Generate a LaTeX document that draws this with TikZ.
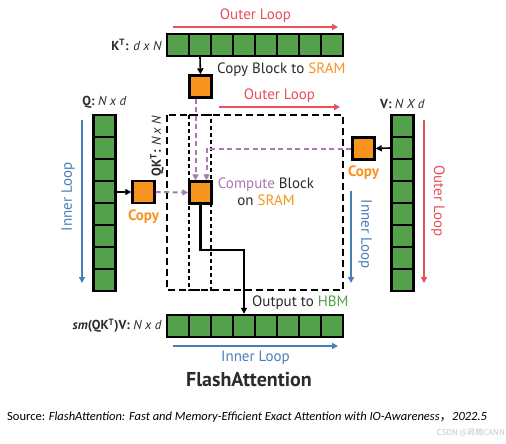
\documentclass[tikz,border=0pt]{standalone}
\usepackage{fontspec}
\setmainfont{PT Sans}
\newfontfamily\srcfont{Carlito}
\newfontfamily\cjk{Noto Sans CJK SC}
\usepackage{tikz}
\usetikzlibrary{positioning,arrows.meta}

\definecolor{cellgreen}{HTML}{55A04B}
\definecolor{sramorange}{HTML}{F7941D}
\definecolor{outerred}{HTML}{E8505B}
\definecolor{innerblue}{HTML}{4A7EBB}
\definecolor{flowpurple}{HTML}{A77BAE}
\definecolor{txtgray}{HTML}{2B2B2B}

\tikzset{
  cell/.style={draw=black, line width=2.4pt, fill=cellgreen, minimum width=22pt, minimum height=22pt, inner sep=0pt},
  block/.style={draw=black, line width=2.4pt, fill=sramorange, minimum size=22pt, inner sep=0pt},
  outerloop/.style={->, outerred, line width=1.8pt},
  innerloop/.style={->, innerblue, line width=1.8pt},
  flow/.style={->, flowpurple, line width=2pt, dash pattern=on 5pt off 3.5pt},
  feed/.style={->, black, line width=1.6pt},
  looplabel/.style={font=\fontsize{15}{17}\selectfont, inner sep=1pt},
  matlabel/.style={font=\fontsize{13}{15}\selectfont, text=txtgray, inner sep=1pt},
  textlabel/.style={font=\fontsize{15}{17}\selectfont, text=txtgray, inner sep=1pt},
  copylabel/.style={font=\fontsize{15}{17}\selectfont\bfseries, text=sramorange, inner sep=1pt}
}

\begin{document}
\begin{tikzpicture}[x=1pt, y=-1pt, >={Triangle[length=6pt,width=6pt]}]
  \useasboundingbox[fill=white] (0,0) rectangle (506,444);

  % matrices in HBM
  \foreach \i in {1,...,8} {
    \node[cell] (kt\i) at ({156+22*\i},45) {};
    \node[cell] (sm\i) at ({156+22*\i},326) {};
    \node[cell] (q\i) at (104.5,{104+22*\i}) {};
    \node[cell] (v\i) at (402.5,{104+22*\i}) {};
  }

  % QK^T region
  \draw[black, line width=1.5pt, dash pattern=on 7pt off 4pt] (167,115) rectangle (343,290);
  \draw[black, line width=1.3pt, dash pattern=on 4pt off 3pt] (189,115) rectangle (211,290);

  % blocks in SRAM
  \node[block] (kblock) at (200.5,86.5) {};
  \node[block] (qblock) at (143.5,192) {};
  \node[block] (vblock) at (363.5,148.5) {};
  \node[block] (cblock) at (200.5,192.5) {};

  % labels
  \node[matlabel, anchor=east] (ktlabel) at (163,45) {\textbf{K\textsuperscript{T}:} \textit{d x N}};
  \node[matlabel, above=4pt of q1] (qlabel) {\textbf{Q:} \textit{N x d}};
  \node[matlabel, above=4pt of v1] (vlabel) {\textbf{V:} \textit{N X d}};
  \node[matlabel, anchor=east] (smlabel) at (163,326) {\textbf{\textit{sm}(QK\textsuperscript{T})V:} \textit{N x d}};
  \node[matlabel, rotate=90] (qktlabel) at (157,146) {\textbf{QK\textsuperscript{T}:} \textit{N x N}};
  \node[textlabel, anchor=west] (copyk) at (216,70) {Copy Block to \textcolor{sramorange}{SRAM}};
  \node[copylabel, below=4pt of qblock] (copyq) {Copy};
  \node[copylabel, below=4pt of vblock] (copyv) {Copy};
  \node[textlabel, align=center] (compute) at (266,192) {\textcolor{flowpurple}{Compute} Block\\on \textcolor{sramorange}{SRAM}};
  \node[textlabel, anchor=west] (output) at (251,303) {Output to \textcolor{cellgreen}{HBM}};

  % loops
  \coordinate (o1s) at (173,27);  \coordinate (o1e) at (338,27);
  \coordinate (o2s) at (219,107); \coordinate (o2e) at (340,107);
  \coordinate (o3s) at (424,120); \coordinate (o3e) at (424,283);
  \coordinate (i1s) at (82,120);  \coordinate (i1e) at (82,283);
  \coordinate (i2s) at (351,191); \coordinate (i2e) at (351,283);
  \coordinate (i3s) at (173,346); \coordinate (i3e) at (338,346);
  \draw[outerloop] (o1s) -- node[looplabel, above=3pt, text=outerred] {Outer Loop} (o1e);
  \draw[outerloop] (o2s) -- node[looplabel, above=3pt, text=outerred] {Outer Loop} (o2e);
  \draw[outerloop] (o3s) -- (o3e);
  \draw[innerloop] (i1s) -- (i1e);
  \draw[innerloop] (i2s) -- (i2e);
  \draw[innerloop] (i3s) -- node[looplabel, below=3pt, text=innerblue] {Inner Loop} (i3e);
  \node[looplabel, text=outerred, rotate=-90] (outerv) at (438,201) {Outer Loop};
  \node[looplabel, text=innerblue, rotate=90] (innerq) at (68,197) {Inner Loop};
  \node[looplabel, text=innerblue, rotate=-90] (innerv) at (365,234) {Inner Loop};

  % copies and compute
  \draw[feed] (kt2.south) -- (kblock.north);
  \draw[feed] (q4.east) -- (qblock.west);
  \draw[feed] (v2.west) -- (vblock.east);
  \draw[flow] ([xshift=-5pt]kblock.south) -- ([xshift=-5pt]cblock.north);
  \draw[flow] (vblock.west) -| ([xshift=6pt]cblock.north);
  \draw[flow] (qblock.east) -- (cblock.west);
  \draw[feed, line width=2.4pt] (cblock.south) -- (cblock.south |- 0,250) -| (sm4.north);

  % captions
  \node[font=\fontsize{20}{22}\selectfont\bfseries, text=txtgray] (title) at (249,380) {FlashAttention};
  \node[anchor=west, font=\srcfont\fontsize{12.5}{14}\selectfont, inner sep=0pt] (source) at (7,417)
    {Source: \textit{FlashAttention: Fast and Memory-Efficient Exact Attention with IO-Awareness}{\cjk，}\textit{2022.5}};
  \node[anchor=east, font=\cjk\fontsize{8}{9}\selectfont, text=black!22, inner sep=0pt] (mark) at (505,433) {CSDN @昇腾CANN};
\end{tikzpicture}
\end{document}
